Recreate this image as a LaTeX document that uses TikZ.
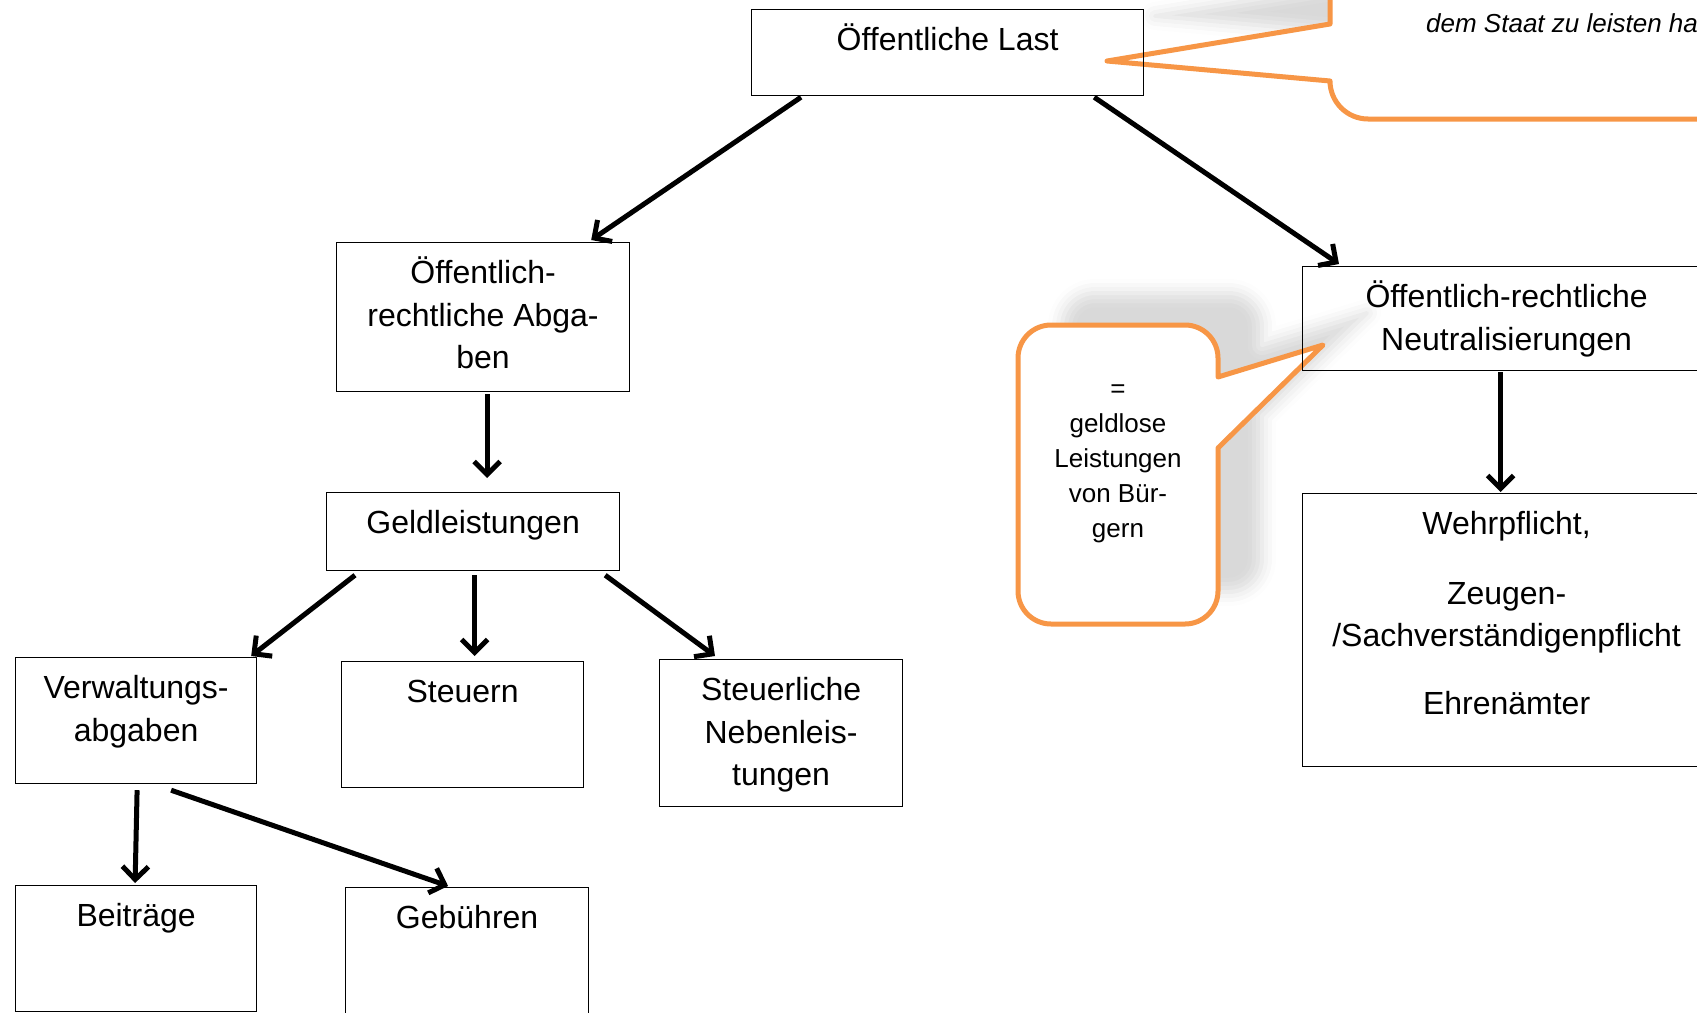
\documentclass[tikz,border=0pt]{standalone}
\usepackage{fontspec}
\setmainfont{Liberation Sans}
\usepackage{tikz}
\usetikzlibrary{arrows.meta, calc, shadows.blur}
\definecolor{calloutorange}{RGB}{247,150,70}
\newcommand{\boxtxt}[3]{\parbox[c][#2][t]{#1}{\centering\rule{0pt}{41pt}#3}}

\begin{document}
\begin{tikzpicture}[x=1pt, y=-1pt,
  box/.style={rectangle, draw=black, line width=1.2pt, inner sep=0pt, anchor=north west,
              font=\fontsize{32}{42.5}\selectfont},
  callout/.style={draw=calloutorange, line width=5pt, fill=white, line join=round},
  calltext/.style={inner sep=0pt, align=center, font=\fontsize{26}{35}\selectfont},
  arrow/.style={-{Straight Barb[length=13pt, width=26pt]}, line width=5pt}
]
\useasboundingbox (0,0) rectangle (1697,1012);
\clip (0,0) rectangle (1697,1012);

\draw[callout, blur shadow={shadow xshift=48pt, shadow yshift=45pt,
      shadow opacity=15, shadow blur radius=14pt}]
  (1330,24) -- (1107,61) -- (1330,81) [rounded corners=38pt] -- (1330,119) -- (1760,119)
  -- (1760,-60) [sharp corners] -- (1330,-60) -- cycle;
\node[calltext, anchor=base west, font=\fontsize{26}{35}\selectfont\itshape] (calltop)
  at (1426,32.5) {dem Staat zu leisten haben};

\draw[callout, blur shadow={shadow xshift=44pt, shadow yshift=32pt,
      shadow opacity=15, shadow blur radius=14pt}]
  (1218,377) -- (1323,345) -- (1218,448) [rounded corners=33pt] -- (1218,624) -- (1018,624)
  -- (1018,325) -- (1218,325) [sharp corners] -- cycle;
\node[calltext, anchor=north] (calltxt) at (1118,371)
  {\rule{0pt}{26pt}=\\geldlose\\Leistungen\\von Bür-\\gern};

\node[box] (last) at (751,9) {\boxtxt{392pt}{86pt}{Öffentliche Last}};
\node[box] (abg) at (336,242) {\boxtxt{293pt}{149pt}{Öffentlich-\\rechtliche Abga-\\ben}};
\node[box] (geld) at (326,492) {\boxtxt{293pt}{78pt}{Geldleistungen}};
\node[box] (verw) at (15,657) {\boxtxt{241pt}{126pt}{Verwaltungs-\\abgaben}};
\node[box] (steu) at (341,661) {\boxtxt{242pt}{126pt}{Steuern}};
\node[box] (neben) at (659,659) {\boxtxt{243pt}{147pt}{Steuerliche\\Nebenleis-\\tungen}};
\node[box] (beit) at (15,885) {\boxtxt{241pt}{126pt}{Beiträge}};
\node[box] (geb) at (345,887) {\boxtxt{243pt}{126pt}{Gebühren}};
\node[box] (neut) at (1302,266) {\boxtxt{408pt}{104pt}{Öffentlich-rechtliche\\Neutralisierungen}};
\node[box] (wehr) at (1302,493)
  {\boxtxt{408pt}{273pt}{Wehrpflicht,\\[27pt]Zeugen-\\/Sachverständigenpflicht\\[25.5pt]Ehrenämter}};

\draw[arrow] ($(last.south west)+(50,1)$) -- ($(abg.north east)+(-39,-2)$);
\draw[arrow] ($(last.south east)+(-50,1)$) -- ($(neut.north west)+(37,-2)$);
\draw[arrow] ($(abg.south)+(4,2)$) -- ($(geld.north)+(14,-14)$);
\draw[arrow] ($(geld.south west)+(29,4)$) -- ($(verw.north east)+(-6,-1)$);
\draw[arrow] ($(geld.south)+(1.5,4)$) -- ($(steu.north)+(12,-5)$);
\draw[arrow] ($(geld.south east)+(-15,4)$) -- ($(neben.north west)+(56,-3)$);
\draw[arrow] ($(verw.south)+(1,6)$) -- ($(beit.north)+(-1,-2)$);
\draw[arrow] ($(verw.south)+(35,6)$) -- ($(geb.north)+(-19,-1)$);
\draw[arrow] ($(neut.south)+(-6,1)$) -- ($(wehr.north)+(-6,-1)$);

\end{tikzpicture}
\end{document}
